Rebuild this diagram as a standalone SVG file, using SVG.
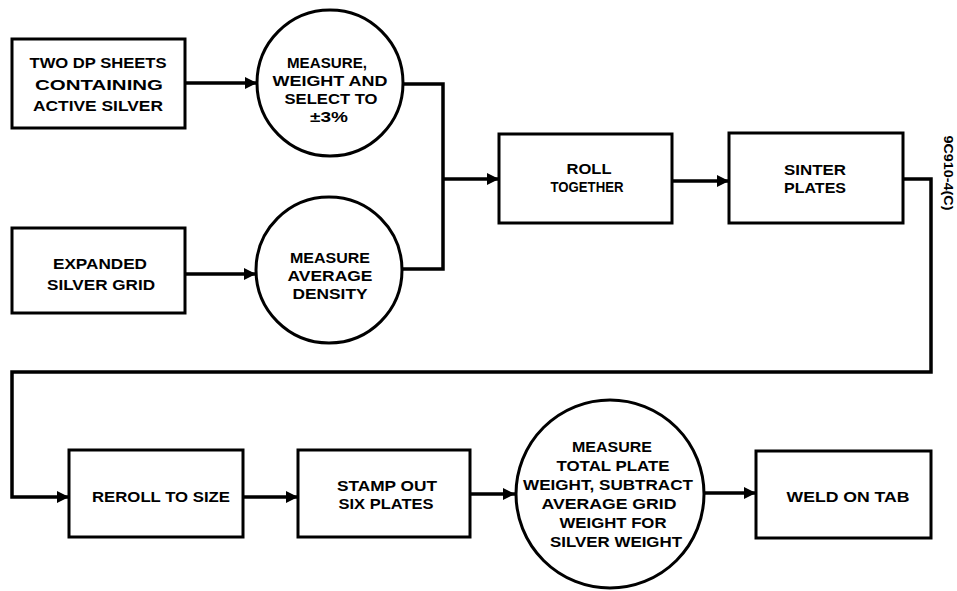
<svg xmlns="http://www.w3.org/2000/svg" width="957" height="591" viewBox="0 0 957 591">
<defs>
<marker id="ah" viewBox="0 0 12 12" refX="12" refY="6" markerWidth="12" markerHeight="12" markerUnits="userSpaceOnUse" orient="auto">
<path d="M0,0 L12,6 L0,12 Z" fill="#000"/>
</marker>
<style>
.n{fill:#fff;stroke:#000;stroke-width:3}
.t{font-family:"Liberation Sans",Arial,sans-serif;font-weight:bold;font-size:15.5px;text-anchor:middle;fill:#000}
.c{fill:none;stroke:#000;stroke-width:3.5}
</style>
</defs>
<rect width="957" height="591" fill="#fff"/>
<g id="connectors">
<path class="c" d="M185,83 H257" marker-end="url(#ah)"/>
<path class="c" d="M185,274 H256" marker-end="url(#ah)"/>
<path class="c" d="M403,84 H443 V269 H402"/>
<path class="c" d="M443,179 H499" marker-end="url(#ah)"/>
<path class="c" d="M672,181 H729" marker-end="url(#ah)"/>
<path class="c" d="M903,179 H931 V372 H12 V497 H69" marker-end="url(#ah)"/>
<path class="c" d="M243,497 H298" marker-end="url(#ah)"/>
<path class="c" d="M470,494 H515" marker-end="url(#ah)"/>
<path class="c" d="M704,493 H756" marker-end="url(#ah)"/>
</g>
<g id="two-dp-sheets">
<rect class="n" x="12" y="39" width="173" height="89"/>
<text class="t" x="98" y="68" textLength="137" lengthAdjust="spacingAndGlyphs">TWO DP SHEETS</text>
<text class="t" x="99" y="90" textLength="128" lengthAdjust="spacingAndGlyphs">CONTAINING</text>
<text class="t" x="98" y="111" textLength="130" lengthAdjust="spacingAndGlyphs">ACTIVE SILVER</text>
</g>
<g id="expanded-grid">
<rect class="n" x="12" y="228" width="173" height="85"/>
<text class="t" x="100" y="269" textLength="94" lengthAdjust="spacingAndGlyphs">EXPANDED</text>
<text class="t" x="101" y="290" textLength="108" lengthAdjust="spacingAndGlyphs">SILVER GRID</text>
</g>
<g id="measure-weight">
<circle class="n" cx="330" cy="83" r="73"/>
<text class="t" x="327" y="68" textLength="80" lengthAdjust="spacingAndGlyphs">MEASURE,</text>
<text class="t" x="330" y="86" textLength="115" lengthAdjust="spacingAndGlyphs">WEIGHT AND</text>
<text class="t" x="331" y="104" textLength="93" lengthAdjust="spacingAndGlyphs">SELECT TO</text>
<text class="t" x="329" y="122" textLength="38" lengthAdjust="spacingAndGlyphs">±3%</text>
</g>
<g id="measure-density">
<circle class="n" cx="329" cy="270" r="73"/>
<text class="t" x="330" y="263" textLength="80" lengthAdjust="spacingAndGlyphs">MEASURE</text>
<text class="t" x="330" y="281" textLength="85" lengthAdjust="spacingAndGlyphs">AVERAGE</text>
<text class="t" x="330" y="299" textLength="75" lengthAdjust="spacingAndGlyphs">DENSITY</text>
</g>
<g id="roll-together">
<rect class="n" x="499" y="134" width="173" height="89"/>
<text class="t" x="589" y="174" textLength="45" lengthAdjust="spacingAndGlyphs">ROLL</text>
<text class="t" x="587" y="192" textLength="73" lengthAdjust="spacingAndGlyphs">TOGETHER</text>
</g>
<g id="sinter-plates">
<rect class="n" x="729" y="133" width="174" height="90"/>
<text class="t" x="815" y="175" textLength="62" lengthAdjust="spacingAndGlyphs">SINTER</text>
<text class="t" x="815" y="193" textLength="62" lengthAdjust="spacingAndGlyphs">PLATES</text>
</g>
<g id="reroll">
<rect class="n" x="69" y="450" width="174" height="87"/>
<text class="t" x="161" y="502" textLength="138" lengthAdjust="spacingAndGlyphs">REROLL TO SIZE</text>
</g>
<g id="stamp-out">
<rect class="n" x="298" y="450" width="172" height="87"/>
<text class="t" x="387" y="491" textLength="100" lengthAdjust="spacingAndGlyphs">STAMP OUT</text>
<text class="t" x="386" y="509" textLength="95" lengthAdjust="spacingAndGlyphs">SIX PLATES</text>
</g>
<g id="measure-total">
<circle class="n" cx="610" cy="494" r="94"/>
<text class="t" x="612" y="452" textLength="80" lengthAdjust="spacingAndGlyphs">MEASURE</text>
<text class="t" x="613" y="471" textLength="113" lengthAdjust="spacingAndGlyphs">TOTAL PLATE</text>
<text class="t" x="608" y="490" textLength="170" lengthAdjust="spacingAndGlyphs">WEIGHT, SUBTRACT</text>
<text class="t" x="609" y="509" textLength="135" lengthAdjust="spacingAndGlyphs">AVERAGE GRID</text>
<text class="t" x="613" y="528" textLength="107" lengthAdjust="spacingAndGlyphs">WEIGHT FOR</text>
<text class="t" x="616" y="547" textLength="132" lengthAdjust="spacingAndGlyphs">SILVER WEIGHT</text>
</g>
<g id="weld-tab">
<rect class="n" x="756" y="451" width="175" height="87"/>
<text class="t" x="848" y="502" textLength="123" lengthAdjust="spacingAndGlyphs">WELD ON TAB</text>
</g>
<text class="t" style="font-size:13px" transform="translate(944,173) rotate(90)" textLength="75" lengthAdjust="spacingAndGlyphs">9C910-4(C)</text>
</svg>
